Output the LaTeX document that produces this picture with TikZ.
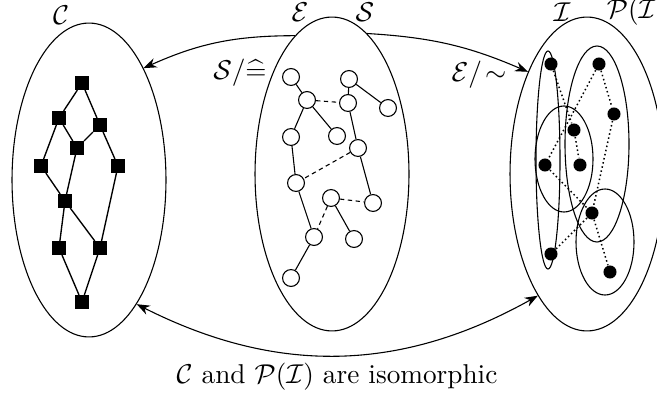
\documentclass[tikz,border=0pt]{standalone}
\usepackage{amsmath, amssymb}
\usepackage{tikz}
\usetikzlibrary{arrows.meta, shapes.geometric}

\tikzset{
    bigset/.style={draw, ellipse, minimum width=56.5pt, minimum height=115.2pt, inner sep=0pt},
    setname/.style={inner sep=0.5pt},
    sq/.style={fill=black, minimum size=4.8pt, inner sep=0pt},
    ring/.style={draw, circle, fill=white, minimum size=6.2pt, inner sep=0pt},
    blob/.style={fill=black, circle, minimum size=4.8pt, inner sep=0pt},
    eqlink/.style={dash pattern=on 1.6pt off 1.3pt},
    isolink/.style={densely dotted, line width=0.55pt},
}

\begin{document}
\begin{tikzpicture}[x=0.367pt, y=-0.367pt, >=Stealth]
    \useasboundingbox (0,0) rectangle (657,396);

    % the three sets
    \node[bigset] (cset) at (89,180) {};
    \node[bigset] (eset) at (332,174) {};
    \node[bigset] (iset) at (587,174) {};
    \node[setname] (clab) at (61,15) {$\mathcal{C}$};
    \node[setname] (elab) at (300,12) {$\mathcal{E}$};
    \node[setname] (slab) at (365,12) {$\mathcal{S}$};
    \node[setname] (ilab) at (562,12) {$\mathcal{I}$};
    \node[setname, anchor=west] (plab) at (605,12) {$\mathcal{P}(\mathcal{I})$};

    % classes inside the right set
    \draw (548,160) ellipse [x radius=12, y radius=109];
    \draw (597,144) ellipse [x radius=32, y radius=98];
    \draw (564,159) ellipse [x radius=29, y radius=53];
    \draw (605,242) ellipse [x radius=29, y radius=53];

    % lattice C
    \node[sq] (c1) at (82,83) {};
    \node[sq] (c2) at (59,118) {};
    \node[sq] (c3) at (100,125) {};
    \node[sq] (c4) at (77,148) {};
    \node[sq] (c5) at (41,166) {};
    \node[sq] (c6) at (118,166) {};
    \node[sq] (c7) at (65,201) {};
    \node[sq] (c8) at (59,248) {};
    \node[sq] (c9) at (100,248) {};
    \node[sq] (c10) at (82,302) {};
    \draw[line width=0.5pt] (c1) -- (c2) (c1) -- (c3) (c2) -- (c4) (c3) -- (c4)
        (c2) -- (c5) (c3) -- (c6) (c5) -- (c7) (c4) -- (c7) (c7) -- (c8)
        (c7) -- (c9) (c6) -- (c9) (c8) -- (c10) (c9) -- (c10);

    % elements E
    \node[ring] (e1) at (291,77) {};
    \node[ring] (e2) at (307,100) {};
    \node[ring] (e3) at (349,79) {};
    \node[ring] (e4) at (348,103) {};
    \node[ring] (e5) at (388,108) {};
    \node[ring] (e6) at (291,137) {};
    \node[ring] (e7) at (337,136) {};
    \node[ring] (e8) at (358,148) {};
    \node[ring] (e9) at (296,183) {};
    \node[ring] (e10) at (331,198) {};
    \node[ring] (e11) at (373,203) {};
    \node[ring] (e12) at (314,237) {};
    \node[ring] (e13) at (354,239) {};
    \node[ring] (e14) at (291,278) {};
    \draw (e1) -- (e2) (e2) -- (e6) (e2) -- (e7) (e3) -- (e4) (e3) -- (e5)
        (e4) -- (e8) (e6) -- (e9) (e8) -- (e11) (e9) -- (e12) (e10) -- (e13)
        (e12) -- (e14);
    \draw[eqlink] (e2) -- (e4) (e8) -- (e9) (e10) -- (e11) (e10) -- (e12);

    % classes I
    \node[blob] (i1) at (551,64) {};
    \node[blob] (i2) at (599,64) {};
    \node[blob] (i3) at (614,114) {};
    \node[blob] (i4) at (574,130) {};
    \node[blob] (i5) at (545,165) {};
    \node[blob] (i6) at (580,165) {};
    \node[blob] (i7) at (592,213) {};
    \node[blob] (i8) at (551,254) {};
    \node[blob] (i9) at (610,272) {};
    \draw[isolink] (i1) -- (i4) (i2) -- (i5) (i2) -- (i3) (i4) -- (i6)
        (i5) -- (i7) (i3) -- (i7) (i7) -- (i8) (i7) -- (i9);

    % mappings
    \draw[->] (eset.105) to[bend right=12] (cset.64);
    \draw[->] (eset.76) to[bend left=10] (iset.120);
    \draw[<->] (cset.-69) to[bend right=28] (iset.-112);
    \node[setname] (slash1) at (240,73) {$\mathcal{S}/\widehat{=}$};
    \node[setname] (slash2) at (479,75) {$\mathcal{E}/\!\sim$};
    \node (iso) at (337,377) {$\mathcal{C}$ and $\mathcal{P}(\mathcal{I})$ are isomorphic};
\end{tikzpicture}
\end{document}
